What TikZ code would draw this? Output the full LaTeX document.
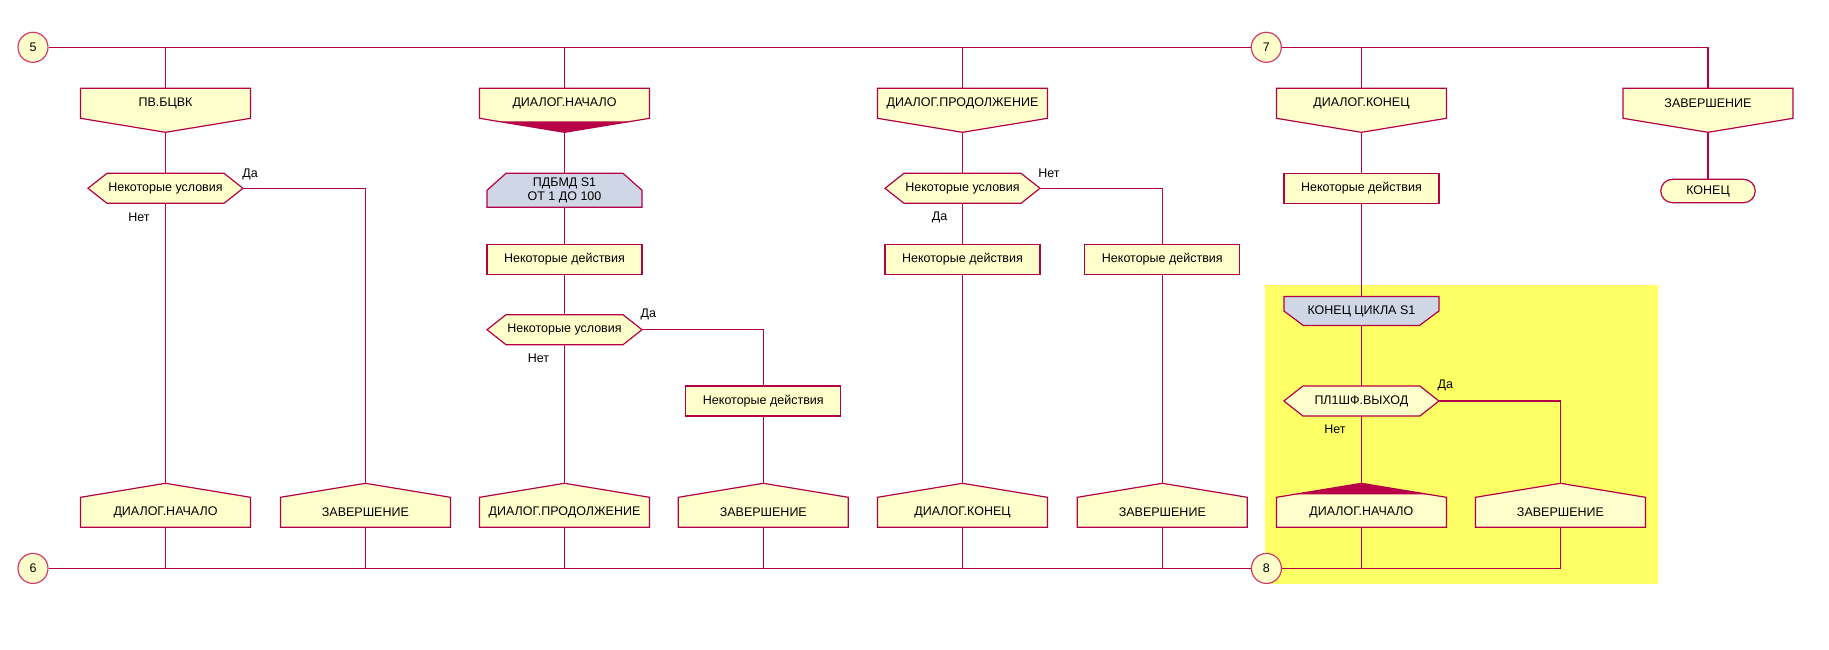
\documentclass[tikz,border=0pt]{standalone}
\usepackage{fontspec}
\setmainfont{Liberation Sans}
\usetikzlibrary{calc}
\definecolor{ln}{RGB}{180,0,70}
\definecolor{circ}{RGB}{210,60,110}
\definecolor{dk}{RGB}{184,0,72}
\definecolor{lyel}{RGB}{255,255,204}
\definecolor{lblue}{RGB}{207,214,230}
\definecolor{hyel}{RGB}{255,255,102}
\tikzset{
 conn/.style={draw=ln, line width=1.2pt},
 shapeline/.style={draw=ln, line width=1.2pt, line join=miter},
 lbl/.style={font=\fontsize{12.5}{14}\selectfont, inner sep=0pt},
 txt/.style={font=\fontsize{12.5}{13.5}\selectfont, inner sep=0pt, minimum height=30, align=center},
 pentnode/.style={txt, minimum width=170},
 hexnode/.style={txt, minimum width=155},
 actbox/.style={txt, draw=ln, line width=1.2pt, fill=lyel, minimum width=155},
 conbox/.style={circle, draw=circ, line width=1.2pt, fill=lyel, minimum size=30, inner sep=0pt, font=\fontsize{12.5}{14}\selectfont},
 termbox/.style={txt, draw=ln, line width=1.2pt, fill=lyel, minimum width=94.5, minimum height=23.4, rounded corners=11.7},
}
\newcommand\PentDown[4]{%
 \path[shapeline, fill=lyel] ({#2-85},{#3-15}) -- ({#2+85},{#3-15}) -- ({#2+85},{#3+15}) -- (#2,{#3+29}) -- ({#2-85},{#3+15}) -- cycle;
 \node[pentnode] (#1) at (#2,#3) {#4};
 \coordinate (#1-tip) at (#2,{#3+29});}
\newcommand\PentDownDark[4]{%
 \PentDown{#1}{#2}{#3}{#4}%
 \fill[dk] ({#2-66.8},{#3+18}) -- ({#2+66.8},{#3+18}) -- (#2,{#3+29}) -- cycle;}
\newcommand\PentUp[4]{%
 \path[shapeline, fill=lyel] ({#2-85},{#3+15}) -- ({#2+85},{#3+15}) -- ({#2+85},{#3-15}) -- (#2,{#3-29}) -- ({#2-85},{#3-15}) -- cycle;
 \node[pentnode] (#1) at (#2,#3) {#4};
 \coordinate (#1-tip) at (#2,{#3-29});}
\newcommand\PentUpDark[4]{%
 \PentUp{#1}{#2}{#3}{#4}%
 \fill[dk] ({#2-66.8},{#3-18}) -- ({#2+66.8},{#3-18}) -- (#2,{#3-29}) -- cycle;}
\newcommand\Hexa[4]{%
 \path[shapeline, fill=lyel] ({#2-77.5},#3) -- ({#2-58.5},{#3-15}) -- ({#2+58.5},{#3-15}) -- ({#2+77.5},#3) -- ({#2+58.5},{#3+15}) -- ({#2-58.5},{#3+15}) -- cycle;
 \node[hexnode] (#1) at (#2,#3) {#4};}
\newcommand\LoopTop[4]{%
 \path[shapeline, fill=lblue] ({#2-77.5},{#3+17}) -- ({#2-77.5},#3) -- ({#2-58.5},{#3-17}) -- ({#2+58.5},{#3-17}) -- ({#2+77.5},#3) -- ({#2+77.5},{#3+17}) -- cycle;
 \node[hexnode, minimum height=34] (#1) at (#2,#3) {#4};}
\newcommand\LoopEnd[4]{%
 \path[shapeline, fill=lblue] ({#2-77.5},{#3-14.5}) -- ({#2+77.5},{#3-14.5}) -- ({#2+77.5},#3) -- ({#2+58},{#3+14.5}) -- ({#2-58},{#3+14.5}) -- ({#2-77.5},#3) -- cycle;
 \node[hexnode, minimum height=29] (#1) at (#2,#3) {#4};}
\begin{document}
\begin{tikzpicture}[x=1pt,y=-1pt]
\useasboundingbox (0,0) rectangle (1829,649);
\fill[white] (0,0) rectangle (1829,649);
\fill[hyel] (1265,285) rectangle (1658,584);
% connectors
\node[conbox] (n5) at (33,47.3) {5};
\node[conbox] (n6) at (33,568.4) {6};
\node[conbox] (n7) at (1266.3,47.3) {7};
\node[conbox] (n8) at (1266.4,568.4) {8};
% top row
\PentDown{p1}{165.5}{103.3}{ПВ.БЦВК}
\PentDownDark{p2}{564.5}{103.3}{ДИАЛОГ.НАЧАЛО}
\PentDown{p3}{962.5}{103.3}{ДИАЛОГ.ПРОДОЛЖЕНИЕ}
\PentDown{p4}{1361.4}{103.3}{ДИАЛОГ.КОНЕЦ}
\PentDown{p5}{1708}{103.3}{ЗАВЕРШЕНИЕ}
% second row
\Hexa{h1}{165.5}{188.3}{Некоторые условия}
\LoopTop{l2}{564.5}{190.3}{ПДБМД S1\\ОТ 1 ДО 100}
\Hexa{h3}{962.5}{188.3}{Некоторые условия}
\node[actbox] (a4) at (1361.4,188.3) {Некоторые действия};
\node[termbox] (t5) at (1708,191) {КОНЕЦ};
% third row
\node[actbox] (a2) at (564.5,259.3) {Некоторые действия};
\node[actbox] (a3) at (962.5,259.3) {Некоторые действия};
\node[actbox] (a3b) at (1162.3,259.3) {Некоторые действия};
\LoopEnd{l4}{1361.4}{311}{КОНЕЦ ЦИКЛА S1}
\Hexa{h2}{564.5}{329.7}{Некоторые условия}
\node[actbox] (a2b) at (763.3,401) {Некоторые действия};
\Hexa{h4}{1361.4}{401}{ПЛ1ШФ.ВЫХОД}
% bottom row
\PentUp{u1}{165.5}{512.3}{ДИАЛОГ.НАЧАЛО}
\PentUp{u1b}{365.4}{512.3}{ЗАВЕРШЕНИЕ}
\PentUp{u2}{564.5}{512.3}{ДИАЛОГ.ПРОДОЛЖЕНИЕ}
\PentUp{u2b}{763.3}{512.3}{ЗАВЕРШЕНИЕ}
\PentUp{u3}{962.5}{512.3}{ДИАЛОГ.КОНЕЦ}
\PentUp{u3b}{1162.3}{512.3}{ЗАВЕРШЕНИЕ}
\PentUpDark{u4}{1361.4}{512.3}{ДИАЛОГ.НАЧАЛО}
\PentUp{u4b}{1560.5}{512.3}{ЗАВЕРШЕНИЕ}
% buses
\draw[conn] (n5) -- (n7);
\draw[conn] (n7) -| (p5.north);
\foreach \p in {p1,p2,p3,p4} \draw[conn] (\p.north |- n5) -- (\p.north);
\draw[conn] (n6) -- (n8);
\draw[conn] (n8) -| (u4b.south);
\foreach \u in {u1,u1b,u2,u2b,u3,u3b,u4} \draw[conn] (\u.south) -- (\u.south |- n6);
% column 1
\draw[conn] (p1-tip) -- (h1.north);
\draw[conn] (h1.south) -- (u1-tip);
\draw[conn] (h1.east) -| (u1b-tip);
% column 2
\draw[conn] (p2-tip) -- (l2.north);
\draw[conn] (l2.south) -- (a2.north);
\draw[conn] (a2.south) -- (h2.north);
\draw[conn] (h2.south) -- (u2-tip);
\draw[conn] (h2.east) -| (a2b.north);
\draw[conn] (a2b.south) -- (u2b-tip);
% column 3
\draw[conn] (p3-tip) -- (h3.north);
\draw[conn] (h3.south) -- (a3.north);
\draw[conn] (h3.east) -| (a3b.north);
\draw[conn] (a3.south) -- (u3-tip);
\draw[conn] (a3b.south) -- (u3b-tip);
% column 4
\draw[conn] (p4-tip) -- (a4.north);
\draw[conn] (a4.south) -- (l4.north);
\draw[conn] (l4.south) -- (h4.north);
\draw[conn] (h4.south) -- (u4-tip);
\draw[conn] (h4.east) -| (u4b-tip);
% column 5
\draw[conn] (p5-tip) -- (t5.north);
% labels
\node[lbl] (yes1) at (250,174) {Да};
\node[lbl] (no1) at (139,217) {Нет};
\node[lbl] (yes2) at (648.4,314.3) {Да};
\node[lbl] (no2) at (538.5,358.7) {Нет};
\node[lbl] (no3) at (1049,173.3) {Нет};
\node[lbl] (yes3) at (939.5,217.7) {Да};
\node[lbl] (yes4) at (1445.3,385.3) {Да};
\node[lbl] (no4) at (1335,429.3) {Нет};
\end{tikzpicture}
\end{document}
